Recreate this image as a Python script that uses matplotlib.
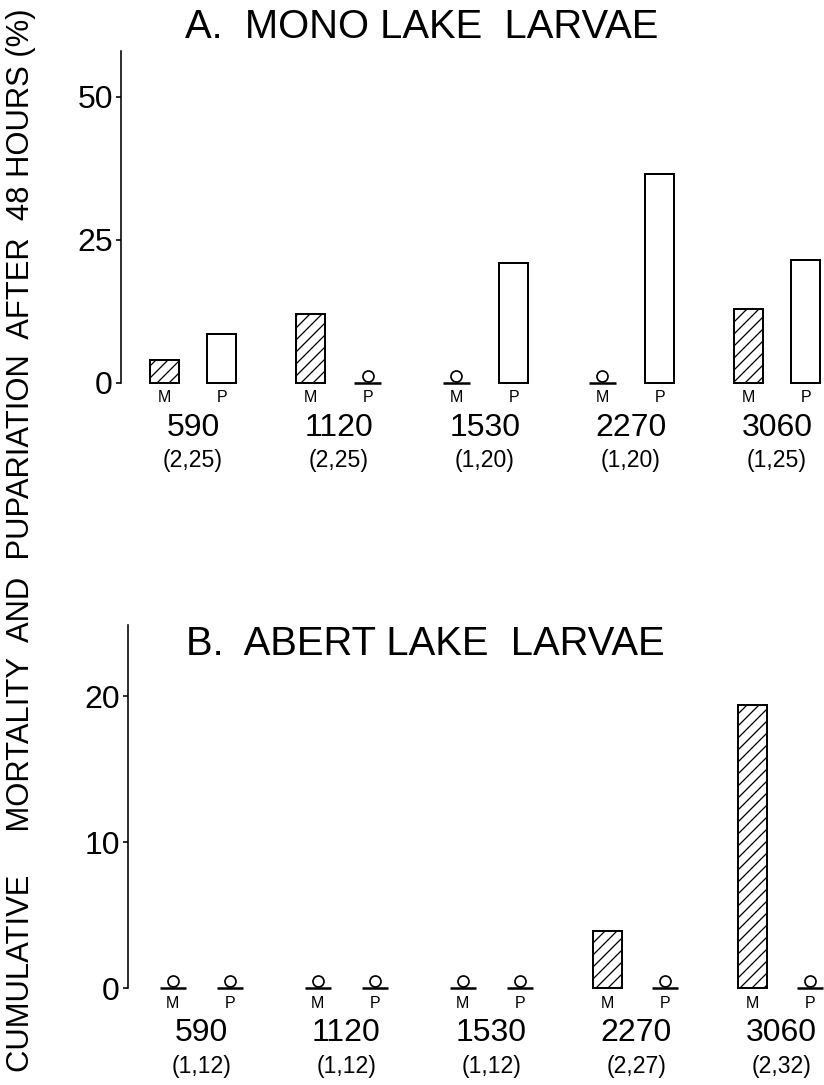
import matplotlib
matplotlib.use("Agg")
import matplotlib.pyplot as plt
from matplotlib import font_manager
from matplotlib.transforms import offset_copy

# data (percent after 48 hours)
concentrations = ["590", "1120", "1530", "2270", "3060"]
mono_counts = ["(2,25)", "(2,25)", "(1,20)", "(1,20)", "(1,25)"]
abert_counts = ["(1,12)", "(1,12)", "(1,12)", "(2,27)", "(2,32)"]
mono_mortality = [4, 12, 0, 0, 13]
mono_pupariation = [8.6, 0, 21, 36.5, 21.5]
abert_mortality = [0, 0, 0, 3.9, 19.4]
abert_pupariation = [0, 0, 0, 0, 0]

W, H = 824, 1085
DPI = 72  # 1 pt == 1 px

plt.rcParams["font.family"] = ["Liberation Sans", "DejaVu Sans"]
plt.rcParams["hatch.linewidth"] = 1.3
plt.rcParams["hatch.color"] = "black"

installed = {f.name for f in font_manager.fontManager.ttflist}
narrow = "Liberation Sans Narrow" if "Liberation Sans Narrow" in installed else None

fig = plt.figure(figsize=(W / DPI, H / DPI), dpi=DPI)


def px_axes(left, right, bottom, top):
    return fig.add_axes([left / W, 1 - bottom / H, (right - left) / W, (bottom - top) / H])


def draw_panel(ax, mortality, pupariation, counts, ymax, yticks, xlim):
    bw = 0.2
    off = 0.197
    circle_tr = offset_copy(ax.transData, fig=fig, y=7, units="points")
    for i, (m, p) in enumerate(zip(mortality, pupariation)):
        for x, v, hatch, lab in ((i - off, m, "//", "M"), (i + off, p, None, "P")):
            if v > 0:
                ax.bar(x, v, width=bw, color="white", edgecolor="black",
                       linewidth=2, hatch=hatch, clip_on=False)
            else:
                ax.hlines(0, x - bw * 0.46, x + bw * 0.46, color="black", lw=2.5, clip_on=False)
                ax.plot(x, 0, marker="o", ms=11, mfc="white", mec="black", mew=1.7,
                        clip_on=False, transform=circle_tr)
            ax.annotate(lab, (x, 0), xytext=(0, -15), textcoords="offset points",
                        ha="center", va="center", fontsize=16)
        ax.annotate(concentrations[i], (i, 0), xytext=(0, -45), textcoords="offset points",
                    ha="center", va="center", fontsize=32)
        ax.annotate(counts[i], (i, 0), xytext=(0, -78), textcoords="offset points",
                    ha="center", va="center", fontsize=23)

    ax.set_xlim(*xlim)
    ax.set_ylim(0, ymax)
    for side in ("top", "right", "bottom"):
        ax.spines[side].set_visible(False)
    ax.spines["left"].set_linewidth(1.6)
    ax.set_xticks([])
    ax.set_yticks(yticks)
    ax.set_yticklabels([str(t) for t in yticks])
    ax.tick_params(axis="y", direction="out", length=5, width=1.6, pad=3, labelsize=32)
    ax.patch.set_alpha(0)


# A. Mono Lake
ax_a = px_axes(121, W, 383, 51)
draw_panel(ax_a, mono_mortality, mono_pupariation, mono_counts, 58, [0, 25, 50],
           ((121 - 193) / 146, (W - 193) / 146))

# B. Abert Lake
ax_b = px_axes(128, W, 988, 625)
draw_panel(ax_b, abert_mortality, abert_pupariation, abert_counts, 24.9, [0, 10, 20],
           ((128 - 201.5) / 145, (W - 201.5) / 145))

fig.text(422 / W, 1 - 27 / H, "A.  MONO LAKE  LARVAE", ha="center", va="center", fontsize=40)
fig.text(425 / W, 1 - 644 / H, "B.  ABERT LAKE  LARVAE", ha="center", va="center", fontsize=40)

ylab = "CUMULATIVE     MORTALITY  AND  PUPARIATION  AFTER  48 HOURS (%)"
if narrow:
    fig.text(21 / W, 1 - 540 / H, ylab, rotation=90, ha="center", va="center",
             fontsize=37, family=[narrow, "DejaVu Sans"])
else:
    fig.text(21 / W, 1 - 540 / H, ylab, rotation=90, ha="center", va="center", fontsize=31)

fig.savefig("out.png", dpi=DPI, facecolor="white")
